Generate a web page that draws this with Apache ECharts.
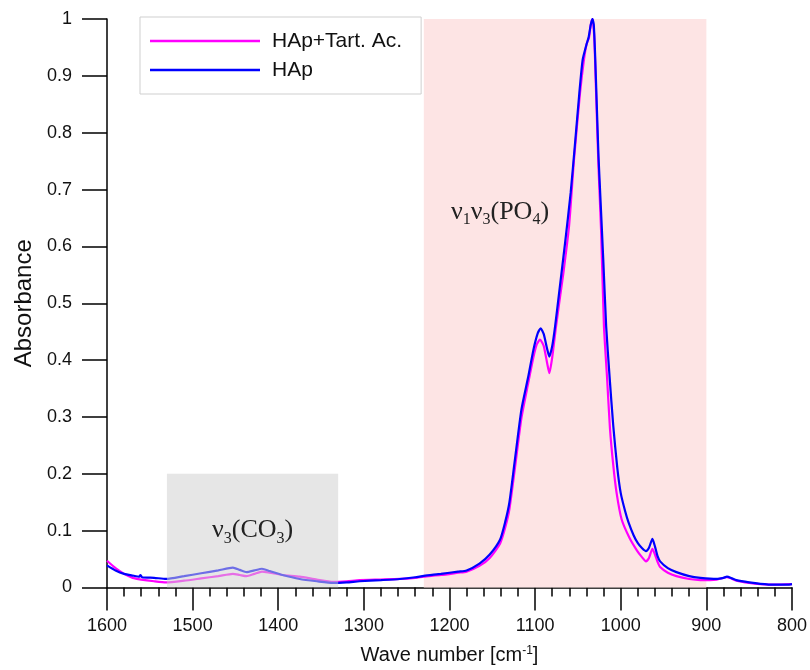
<!DOCTYPE html>
<html>
<head>
<meta charset="utf-8">
<script src="https://cdn.jsdelivr.net/npm/echarts@6/dist/echarts.min.js"></script>
<style>html,body{margin:0;padding:0;background:#fff;}#c{width:810px;height:670px;}</style>
</head>
<body>
<div id="c"></div>
<script>
// Wave numbers (cm-1) and absorbance
const wnHAp = [1600,1590,1580,1570,1562,1561,1559,1545,1531,1510,1490,1470,1453,1445,1437,1428,1419,1410,1395,1375,1355,1336,1320,1305,1280,1258,1240,1230,1210,1190,1180,1165,1153,1141,1135,1130,1124,1116,1108,1102,1097,1093.5,1090,1086,1083.4,1080,1076.7,1072,1065,1058.5,1053.4,1048.4,1044.5,1040,1037.5,1035,1033,1031.5,1030,1028,1026,1024,1020.5,1017,1013,1008.7,1004,1000,995,991,985,980,975,970.5,967,963,960,957,954,945,935,920,907,888,880,876,870,865,850,837,820,805,800];
const absHAp = [0.039,0.030,0.024,0.021,0.019,0.022,0.018,0.017,0.015,0.020,0.025,0.030,0.035,0.031,0.027,0.030,0.033,0.029,0.022,0.015,0.011,0.008,0.009,0.011,0.013,0.015,0.018,0.0205,0.024,0.028,0.030,0.042,0.058,0.084,0.115,0.150,0.220,0.313,0.371,0.418,0.447,0.456,0.446,0.420,0.406,0.425,0.459,0.518,0.606,0.694,0.781,0.869,0.928,0.955,0.968,0.990,1.000,0.990,0.940,0.850,0.760,0.694,0.580,0.459,0.370,0.284,0.210,0.166,0.135,0.115,0.092,0.078,0.069,0.064,0.070,0.0855,0.072,0.055,0.046,0.034,0.027,0.020,0.017,0.015,0.017,0.019,0.016,0.013,0.009,0.0065,0.005,0.005,0.006];

const wnTart = [1600,1590,1580,1570,1560,1545,1531,1510,1490,1470,1453,1445,1437,1428,1419,1410,1395,1375,1355,1336,1320,1305,1280,1258,1240,1230,1210,1190,1180,1165,1153,1141,1135,1130,1124,1116,1108,1102,1098,1094.3,1090,1086,1083.4,1080,1075.6,1071,1067,1060.4,1054.6,1047.6,1043,1040,1037,1035,1033,1031,1029,1026,1023,1019.6,1016,1012.6,1008.7,1004.8,999,990,981,975,970.5,967,963,960,957,954,945,935,920,907,888,876,865,850,837,820,800];
const absTart = [0.047,0.034,0.024,0.017,0.014,0.011,0.009,0.012,0.016,0.020,0.024,0.022,0.020,0.024,0.028,0.026,0.022,0.019,0.014,0.010,0.011,0.013,0.014,0.015,0.017,0.019,0.022,0.026,0.028,0.038,0.052,0.077,0.105,0.138,0.205,0.298,0.360,0.405,0.428,0.436,0.425,0.395,0.377,0.405,0.459,0.510,0.553,0.635,0.752,0.869,0.928,0.955,0.968,0.990,1.000,0.970,0.880,0.740,0.630,0.459,0.370,0.280,0.215,0.166,0.120,0.088,0.065,0.053,0.046,0.052,0.068,0.058,0.045,0.036,0.026,0.020,0.015,0.013,0.014,0.018,0.012,0.008,0.006,0.005,0.006];

const seriesNames = ['HAp+Tart. Ac.', 'HAp'];
const pinkBand = [1230, 900];   // nu1 nu3 (PO4) region
const grayBand = [1530, 1330];  // nu3 (CO3) region
const grayBandTop = 0.2;
const xTicks = {min: 800, max: 1600, interval: 100};
const yTicks = {min: 0, max: 1, interval: 0.1};

const pairs = (xs, ys) => xs.map((x, i) => [x, ys[i]]);
const sans = 'Liberation Sans, Arial, sans-serif';
const serif = 'Liberation Serif, Times New Roman, serif';
const annotRich = {
  m: {fontFamily: serif, fontSize: 26, color: '#222', lineHeight: 32, verticalAlign: 'middle'},
  s: {fontFamily: serif, fontSize: 16, color: '#222', lineHeight: 13, verticalAlign: 'bottom'}
};

const chart = echarts.init(document.getElementById('c'), null, {renderer: 'canvas'});
chart.setOption({
  animation: false,
  backgroundColor: '#fff',
  grid: {left: 107, right: 18, top: 19, bottom: 82},
  legend: {
    data: seriesNames,
    orient: 'vertical',
    left: 140, top: 17,
    backgroundColor: '#fff',
    borderColor: '#cfcfcf', borderWidth: 1,
    padding: [13, 19, 13, 10],
    itemWidth: 110, itemHeight: 2.5,
    itemGap: 7,
    icon: 'rect',
    selectedMode: false,
    textStyle: {fontFamily: sans, fontSize: 21, color: '#111', padding: [0, 0, 0, 7], lineHeight: 22}
  },
  xAxis: {
    type: 'value', inverse: true,
    min: xTicks.min, max: xTicks.max, interval: xTicks.interval,
    name: 'Wave number [cm{sup|-1}]',
    nameLocation: 'middle', nameGap: 57,
    nameTextStyle: {fontFamily: sans, fontSize: 20, color: '#111', verticalAlign: 'top',
      rich: {sup: {fontFamily: sans, fontSize: 12, color: '#111', padding: [0, 0, 9, 0]}}},
    axisLine: {show: true, lineStyle: {color: '#000', width: 1.5}},
    axisTick: {show: true, inside: false, length: 23, lineStyle: {color: '#000', width: 1.5}},
    minorTick: {show: true, splitNumber: 5, length: 9, lineStyle: {color: '#000', width: 1.5}},
    splitLine: {show: false},
    axisLabel: {fontFamily: sans, fontSize: 18, color: '#111', margin: 30, formatter: v => String(v)}
  },
  yAxis: {
    type: 'value',
    min: yTicks.min, max: yTicks.max, interval: yTicks.interval,
    name: 'Absorbance',
    nameLocation: 'middle', nameGap: 64,
    nameTextStyle: {fontFamily: sans, fontSize: 24, color: '#111'},
    axisLine: {show: true, lineStyle: {color: '#000', width: 1.5}},
    axisTick: {show: true, inside: false, length: 25, lineStyle: {color: '#000', width: 1.5}},
    splitLine: {show: false},
    axisLabel: {fontFamily: sans, fontSize: 18, color: '#111', margin: 35, formatter: v => String(v)}
  },
  series: [
    {
      name: 'pinkBand', type: 'line', data: [], z: 1, silent: true,
      markArea: {
        silent: true, z: 1,
        itemStyle: {color: '#fde4e4'},
        data: [[{xAxis: pinkBand[0], yAxis: 0}, {xAxis: pinkBand[1], yAxis: 1}]]
      },
      markPoint: {
        silent: true, symbolSize: 0,
        label: {show: true, position: 'inside', formatter: '{m|ν}{s|1}{m|ν}{s|3}{m|(PO}{s|4}{m|)}', rich: annotRich},
        data: [{coord: [1141, 0.66], value: 0}]
      }
    },
    {
      name: seriesNames[0], type: 'line', data: pairs(wnTart, absTart), z: 2,
      showSymbol: false, smooth: 0.2, color: '#ff00ff',
      lineStyle: {color: '#ff00ff', width: 2.2}
    },
    {
      name: seriesNames[1], type: 'line', data: pairs(wnHAp, absHAp), z: 3,
      showSymbol: false, smooth: 0.2, color: '#0000ff',
      lineStyle: {color: '#0000ff', width: 2.2}
    },
    {
      name: 'grayBand', type: 'line', data: [], z: 10, silent: true,
      markArea: {
        silent: true, z: 10,
        itemStyle: {color: 'rgba(208,208,208,0.53)'},
        label: {show: true, position: 'inside', formatter: '{m|ν}{s|3}{m|(CO}{s|3}{m|)}', rich: annotRich},
        data: [[{xAxis: grayBand[0], yAxis: 0}, {xAxis: grayBand[1], yAxis: grayBandTop}]]
      }
    }
  ]
});
</script>
</body>
</html>
